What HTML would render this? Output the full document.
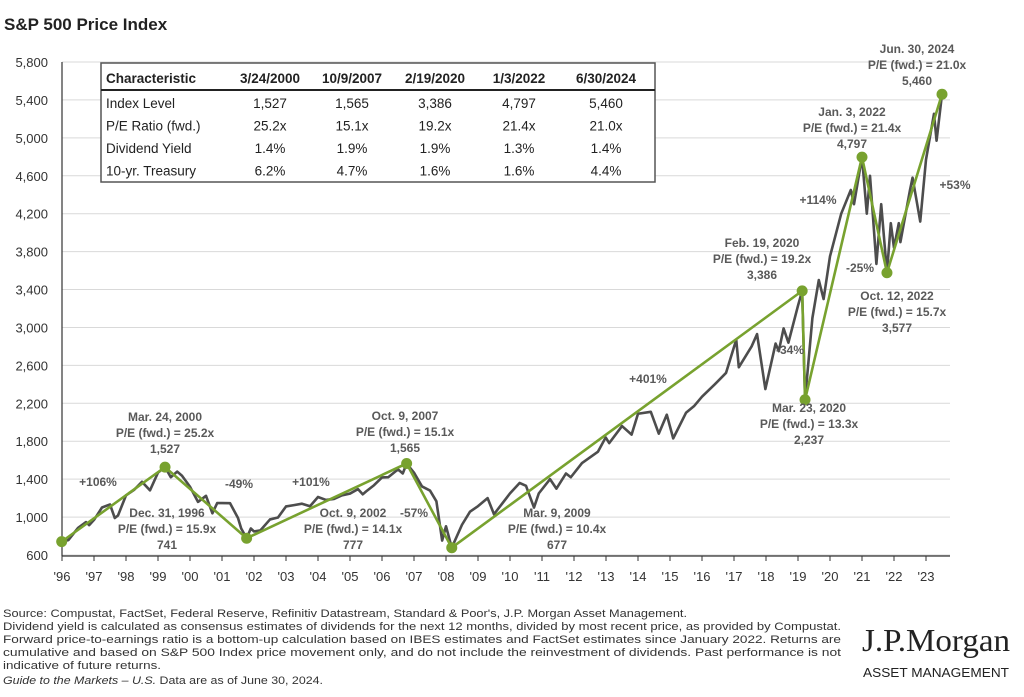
<!DOCTYPE html>
<html><head><meta charset="utf-8"><style>
body{margin:0;background:#fff;}
svg{display:block;font-family:"Liberation Sans",sans-serif;}
.tk{font-size:13px;fill:#333;}
.an{font-size:12px;font-weight:bold;fill:#595959;}
.tb{font-size:13.5px;fill:#222;}
.ft{font-size:11px;fill:#333;}
</style></head><body>
<svg id="c" width="1024" height="697">
<text x="4" y="30" font-size="17" font-weight="bold" fill="#222">S&amp;P 500 Price Index</text>
<g id="grid"></g><g id="axes"></g><g id="price"></g><g id="trend"></g>
<g>
<rect x="101" y="63" width="554" height="119" fill="#fff" stroke="#555" stroke-width="1.5"/>
<line x1="101" y1="90" x2="655" y2="90" stroke="#222" stroke-width="2"/>
<text x="106" y="83" class="tb" font-weight="bold">Characteristic</text>
<text x="270" y="83" text-anchor="middle" class="tb" font-weight="bold">3/24/2000</text>
<text x="352" y="83" text-anchor="middle" class="tb" font-weight="bold">10/9/2007</text>
<text x="435" y="83" text-anchor="middle" class="tb" font-weight="bold">2/19/2020</text>
<text x="519" y="83" text-anchor="middle" class="tb" font-weight="bold">1/3/2022</text>
<text x="606" y="83" text-anchor="middle" class="tb" font-weight="bold">6/30/2024</text>
<g id="rows"></g>
</g>
<g id="labels"></g>
<g>
<text class="ft" x="3" y="617" textLength="684" lengthAdjust="spacingAndGlyphs">Source: Compustat, FactSet, Federal Reserve, Refinitiv Datastream, Standard &amp; Poor's, J.P. Morgan Asset Management.</text>
<text class="ft" x="3" y="630" textLength="838" lengthAdjust="spacingAndGlyphs">Dividend yield is calculated as consensus estimates of dividends for the next 12 months, divided by most recent price, as provided by Compustat.</text>
<text class="ft" x="3" y="643" textLength="838" lengthAdjust="spacingAndGlyphs">Forward price-to-earnings ratio is a bottom-up calculation based on IBES estimates and FactSet estimates since January 2022. Returns are</text>
<text class="ft" x="3" y="656" textLength="838" lengthAdjust="spacingAndGlyphs">cumulative and based on S&amp;P 500 Index price movement only, and do not include the reinvestment of dividends. Past performance is not</text>
<text class="ft" x="3" y="669" textLength="158" lengthAdjust="spacingAndGlyphs">indicative of future returns.</text>
<text class="ft" x="3" y="684" textLength="320" lengthAdjust="spacingAndGlyphs"><tspan font-style="italic">Guide to the Markets – U.S.</tspan> Data are as of June 30, 2024.</text>
</g>
<text x="862" y="651" font-family="Liberation Serif,serif" font-size="32" fill="#222" textLength="148" lengthAdjust="spacingAndGlyphs">J.P.Morgan</text>
<text x="863" y="677" font-size="12.5" fill="#222" textLength="146" lengthAdjust="spacingAndGlyphs">ASSET MANAGEMENT</text>
</svg>
<script>
const yTicks=[600,1000,1400,1800,2200,2600,3000,3400,3800,4200,4600,5000,5400,5800];
const xTickLabels=["'96","'97","'98","'99","'00","'01","'02","'03","'04","'05","'06","'07","'08","'09","'10","'11","'12","'13","'14","'15","'16","'17","'18","'19","'20","'21","'22","'23"];
const priceDates=[1996.99,1997.2,1997.5,1997.75,1997.85,1998.0,1998.25,1998.5,1998.65,1998.75,1999.0,1999.25,1999.5,1999.75,2000.0,2000.22,2000.4,2000.6,2000.75,2001.0,2001.25,2001.5,2001.7,2001.85,2002.0,2002.25,2002.5,2002.6,2002.77,2002.9,2003.0,2003.2,2003.5,2003.75,2004.0,2004.25,2004.5,2004.75,2005.0,2005.25,2005.5,2005.75,2006.0,2006.25,2006.4,2006.5,2006.75,2007.0,2007.2,2007.5,2007.65,2007.77,2008.0,2008.25,2008.5,2008.7,2008.88,2009.0,2009.18,2009.5,2009.75,2010.0,2010.3,2010.5,2010.75,2011.0,2011.3,2011.5,2011.75,2011.9,2012.25,2012.45,2012.75,2012.9,2013.25,2013.75,2013.99,2014.1,2014.5,2014.8,2015.0,2015.4,2015.65,2015.9,2016.1,2016.5,2016.75,2017.0,2017.4,2017.75,2018.07,2018.15,2018.55,2018.72,2018.98,2019.3,2019.4,2019.55,2019.7,2020.0,2020.13,2020.22,2020.45,2020.65,2020.8,2021.0,2021.35,2021.65,2021.75,2022.0,2022.15,2022.25,2022.45,2022.6,2022.78,2022.9,2023.0,2023.15,2023.2,2023.5,2023.58,2023.82,2024.0,2024.25,2024.33,2024.5];
const priceValues=[741,757,885,947,915,970,1101,1133,990,1017,1229,1286,1372,1282,1469,1527,1420,1480,1436,1320,1160,1224,1040,1148,1148,1147,990,880,777,880,848,860,975,996,1112,1126,1141,1114,1212,1181,1191,1229,1248,1295,1240,1270,1336,1418,1421,1503,1460,1565,1468,1323,1280,1166,752,903,677,919,1057,1115,1200,1030,1140,1250,1360,1330,1100,1250,1400,1300,1460,1420,1570,1690,1840,1780,1960,1870,2090,2110,1880,2080,1830,2100,2170,2270,2400,2520,2870,2580,2800,2930,2350,2830,2750,2990,2840,3230,3386,2237,3100,3500,3300,3750,4200,4450,4300,4797,4200,4600,3670,4300,3577,4100,3840,4100,3900,4450,4580,4117,4770,5254,4970,5460];
const trendDates=[1996.99,2000.22,2002.77,2007.77,2009.18,2020.13,2020.22,2022.0,2022.78,2024.5];
const trendValues=[741,1527,777,1565,677,3386,2237,4797,3577,5460];
const tableRows=[["Index Level","1,527","1,565","3,386","4,797","5,460"],["P/E Ratio (fwd.)","25.2x","15.1x","19.2x","21.4x","21.0x"],["Dividend Yield","1.4%","1.9%","1.9%","1.3%","1.4%"],["10-yr. Treasury","6.2%","4.7%","1.6%","1.6%","4.4%"]];
const annotations=[
["Mar. 24, 2000",165,421],["P/E (fwd.) = 25.2x",165,437],["1,527",165,453],
["Oct. 9, 2007",405,420],["P/E (fwd.) = 15.1x",405,436],["1,565",405,452],
["+106%",98,486],["-49%",239,488],["+101%",311,486],["-57%",414,517],
["Dec. 31, 1996",167,517],["P/E (fwd.) = 15.9x",167,533],["741",167,549],
["Oct. 9, 2002",353,517],["P/E (fwd.) = 14.1x",353,533],["777",353,549],
["Mar. 9, 2009",557,517],["P/E (fwd.) = 10.4x",557,533],["677",557,549],
["+401%",648,383],["Feb. 19, 2020",762,247],["P/E (fwd.) = 19.2x",762,263],["3,386",762,279],
["-34%",790,354],["Mar. 23, 2020",809,412],["P/E (fwd.) = 13.3x",809,428],["2,237",809,444],
["+114%",818,204],["Jan. 3, 2022",852,116],["P/E (fwd.) = 21.4x",852,132],["4,797",852,148],
["-25%",860,272],["Oct. 12, 2022",897,300],["P/E (fwd.) = 15.7x",897,316],["3,577",897,332],
["+53%",955,189],["Jun. 30, 2024",917,53],["P/E (fwd.) = 21.0x",917,69],["5,460",917,85]];
const NS='http://www.w3.org/2000/svg';
const X0=62,PX=32.0,Y0=555,YPX=(555-62)/5200;
function xs(t){return X0+(t-1997)*PX;}
function ys(v){return Y0-(v-600)*YPX;}
function mk(tag,attrs,parent){const e=document.createElementNS(NS,tag);for(const k in attrs)e.setAttribute(k,attrs[k]);parent.appendChild(e);return e;}
const grid=document.getElementById('grid'),axes=document.getElementById('axes');
yTicks.forEach(v=>{
 const l=mk('line',{x1:62,x2:950,y1:ys(v),y2:ys(v),stroke:'#d9d9d9','stroke-width':1},grid);
 
 
 const t=mk('text',{x:48,y:ys(v)+5,'text-anchor':'end',class:'tk'},axes);
 t.textContent=v.toLocaleString('en-US');
 
 
});
const ya=mk('line',{x1:62,x2:62,y1:62,y2:556,stroke:'#333','stroke-width':1.2},axes);


const xa=mk('line',{x1:62,x2:950,y1:556,y2:556,stroke:'#333','stroke-width':1.2},axes);


xTickLabels.forEach((s,i)=>{
 const x=xs(1997+i);
 mk('line',{x1:x,x2:x,y1:556,y2:561,stroke:'#333'},axes);
 const t=mk('text',{x:x,y:581,'text-anchor':'middle',class:'tk'},axes);
 t.textContent=s;
 
 
});
const pp=mk('polyline',{points:priceDates.map((d,i)=>xs(d)+','+ys(priceValues[i])).join(' '),fill:'none',stroke:'#4d4d4d','stroke-width':2.6,'stroke-linejoin':'round'},document.getElementById('price'));


const tg=document.getElementById('trend');
const tl=mk('polyline',{points:trendDates.map((d,i)=>xs(d)+','+ys(trendValues[i])).join(' '),fill:'none',stroke:'#78a22f','stroke-width':2.6},tg);


trendDates.forEach((d,i)=>{
 const c=mk('circle',{cx:xs(d),cy:ys(trendValues[i]),r:5.5,fill:'#78a22f'},tg);
 
 
});
const rows=document.getElementById('rows');
const cx=[106,270,352,435,519,606];
tableRows.forEach((r,ri)=>{r.forEach((s,ci)=>{
 const t=mk('text',{x:cx[ci],y:108+ri*22.5,class:'tb','text-anchor':ci?'middle':'start'},rows);
 t.textContent=s;
 
 
});});
const lg=document.getElementById('labels');
annotations.forEach(a=>{
 const t=mk('text',{x:a[1],y:a[2],'text-anchor':'middle',class:'an'},lg);
 t.textContent=a[0];
 
 
});
</script>
</body></html>
